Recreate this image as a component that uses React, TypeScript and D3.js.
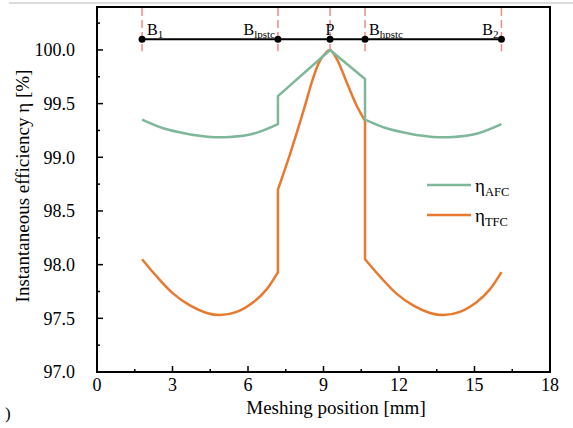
import * as d3 from "d3";
import React from "react";

// meshing positions of the marked points [mm]
const markPos = [1.79, 7.19, 9.26, 10.65, 16.07];
const markLevel = 100.1;

// AFC efficiency [mm, %]
const afcSeg1 = [[1.79, 99.35], [2.63, 99.27], [3.56, 99.22], [4.49, 99.19], [5.28, 99.19], [6.21, 99.22], [7.19, 99.31]];
const afcSeg2 = [[7.19, 99.57], [9.26, 100.0], [10.65, 99.73]];
const afcSeg3 = [[10.65, 99.35], [11.5, 99.27], [12.43, 99.22], [13.36, 99.19], [14.15, 99.19], [15.08, 99.22], [16.07, 99.31]];

// TFC efficiency
const tfcSeg1 = [[1.79, 98.05], [2.37, 97.89], [3.03, 97.73], [3.69, 97.62], [4.36, 97.55], [4.89, 97.53], [5.55, 97.56], [6.21, 97.65], [6.74, 97.77], [7.19, 97.93]];
const tfcSeg2 = [[7.19, 98.7], [7.67, 99.03], [8.2, 99.43], [8.59, 99.74], [8.86, 99.9], [9.12, 99.98], [9.26, 100.0], [9.52, 99.92], [9.92, 99.7], [10.32, 99.48], [10.65, 99.34]];
const tfcSeg3 = [[10.65, 98.05], [11.24, 97.89], [11.9, 97.73], [12.56, 97.62], [13.23, 97.55], [13.76, 97.53], [14.42, 97.56], [15.08, 97.65], [15.61, 97.77], [16.07, 97.93]];

const xTicks = [0, 3, 6, 9, 12, 15, 18];
const yTicks = [97.0, 97.5, 98.0, 98.5, 99.0, 99.5, 100.0];

const W = 573, H = 428;
const left = 97, right = 550, top = 7, bottom = 372;
const green = "#7fb79a", orange = "#e8792f";
const font = "'Liberation Serif', 'DejaVu Serif', serif";

export default function App() {
  const x = d3.scaleLinear().domain([0, 18]).range([left, right]);
  const y = d3.scaleLinear().domain([97, 100.4]).range([bottom, top]);
  const smooth = d3.curveCatmullRom.alpha(0.5);

  const pathOf = (segs: [number[][], d3.CurveFactory][]) =>
    segs.map(([pts, curve], i) => {
      const p = d3.line<number[]>().x(d => x(d[0])).y(d => y(d[1])).curve(curve)(pts) || "";
      return i === 0 ? p : "L" + p.slice(1);
    }).join("");

  const afcPath = pathOf([[afcSeg1, smooth], [afcSeg2, d3.curveLinear], [afcSeg3, smooth]]);
  const tfcPath = pathOf([[tfcSeg1, smooth], [tfcSeg2, smooth], [tfcSeg3, smooth]]);

  const xMinor = d3.range(1.5, 18, 3);
  const yMinor = d3.range(97.25, 100.4, 0.5);

  return (
    <svg width={W} height={H} style={{ position: "absolute", left: 0, top: 0, background: "#fff", fontFamily: font }}>
      <line x1={9} x2={W} y1={3} y2={3} stroke="#d0d0d0" strokeWidth={1.5} />

      {/* dashed markers */}
      {markPos.map((m, i) => (
        <line key={"d" + i} x1={x(m)} x2={x(m)} y1={top + 1} y2={y(markLevel) + 12}
          stroke="#f08a8a" strokeWidth={1.5} strokeDasharray="8,4" />
      ))}
      <line x1={x(markPos[0])} x2={x(markPos[4])} y1={y(markLevel)} y2={y(markLevel)} stroke="#000" strokeWidth={2} />
      {markPos.map((m, i) => (
        <circle key={"c" + i} cx={x(m)} cy={y(markLevel)} r={3.5} fill="#000" />
      ))}
      {/* point labels */}
      <text x={x(markPos[0]) + 5} y={35} fontSize={16}>B<tspan fontSize={11} dy={3}>1</tspan></text>
      <text x={x(markPos[1]) - 3} y={35} fontSize={16} textAnchor="end">B<tspan fontSize={11} dy={3}>lpstc</tspan></text>
      <text x={x(markPos[2])} y={35} fontSize={16} textAnchor="middle">P</text>
      <text x={x(markPos[3]) + 4} y={35} fontSize={16}>B<tspan fontSize={11} dy={3}>hpstc</tspan></text>
      <text x={x(markPos[4]) - 3} y={35} fontSize={16} textAnchor="end">B<tspan fontSize={11} dy={3}>2</tspan></text>

      {/* curves */}
      <path d={tfcPath} fill="none" stroke={orange} strokeWidth={2.5} strokeLinejoin="round" />
      <path d={afcPath} fill="none" stroke={green} strokeWidth={2.5} strokeLinejoin="round" />

      {/* frame & ticks */}
      <rect x={left} y={top} width={right - left} height={bottom - top} fill="none" stroke="#000" strokeWidth={2} />
      {xTicks.map(t => (
        <g key={"xt" + t}>
          <line x1={x(t)} x2={x(t)} y1={bottom} y2={bottom - 6} stroke="#000" strokeWidth={1.5} />
          <text x={x(t)} y={391} fontSize={18} textAnchor="middle">{t}</text>
        </g>
      ))}
      {xMinor.map(t => (
        <line key={"xm" + t} x1={x(t)} x2={x(t)} y1={bottom} y2={bottom - 3} stroke="#000" strokeWidth={1.5} />
      ))}
      {yTicks.map(t => (
        <g key={"yt" + t}>
          <line x1={left} x2={left + 6} y1={y(t)} y2={y(t)} stroke="#000" strokeWidth={1.5} />
          <text x={75} y={y(t)} dy="0.35em" fontSize={18} textAnchor="end">{d3.format(".1f")(t)}</text>
        </g>
      ))}
      {yMinor.map(t => (
        <line key={"ym" + t} x1={left} x2={left + 3} y1={y(t)} y2={y(t)} stroke="#000" strokeWidth={1.5} />
      ))}

      {/* axis titles */}
      <text x={336} y={414} fontSize={19} textAnchor="middle">Meshing position [mm]</text>
      <text transform="translate(29,186) rotate(-90)" fontSize={19} textAnchor="middle">Instantaneous efficiency η  [%]</text>

      {/* legend */}
      <line x1={427} x2={471} y1={185} y2={185} stroke={green} strokeWidth={2.5} />
      <text x={475} y={192} fontSize={19}>η<tspan fontSize={12.5} dy={4}>AFC</tspan></text>
      <line x1={427} x2={471} y1={215} y2={215} stroke={orange} strokeWidth={2.5} />
      <text x={475} y={222} fontSize={19}>η<tspan fontSize={12.5} dy={4}>TFC</tspan></text>

      <text x={5} y={419} fontSize={17}>)</text>
    </svg>
  );
}
